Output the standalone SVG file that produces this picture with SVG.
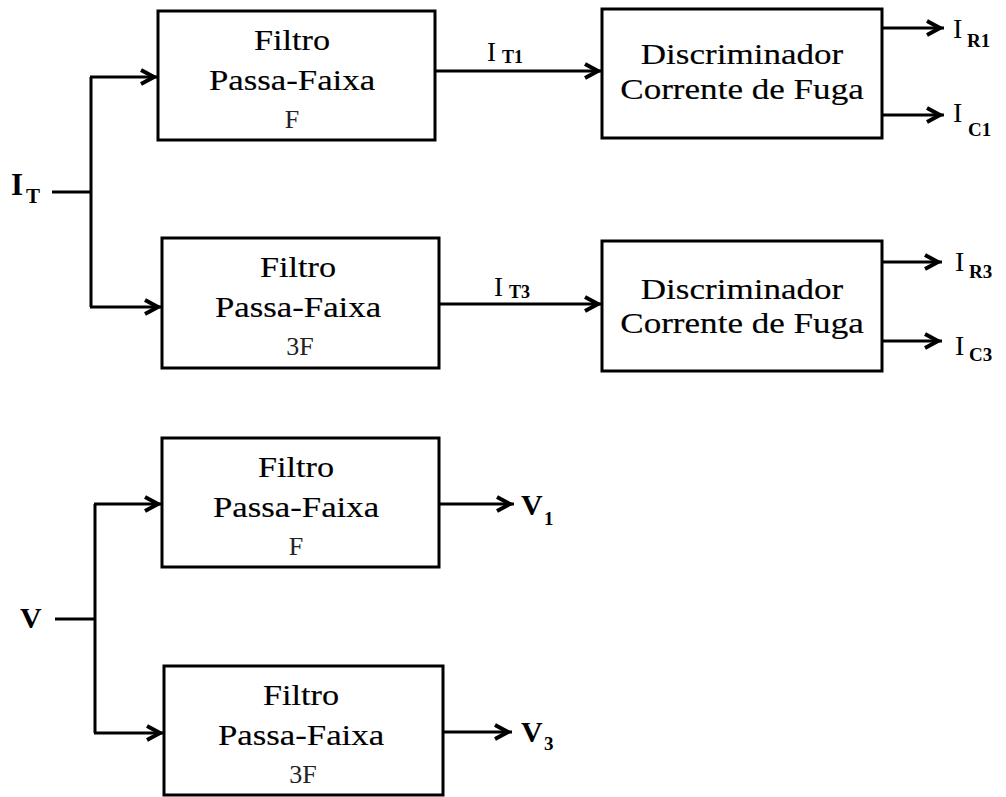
<svg xmlns="http://www.w3.org/2000/svg" width="1006" height="797" viewBox="0 0 1006 797">
  <defs>
    <marker id="arr" markerUnits="userSpaceOnUse" markerWidth="24" markerHeight="24" viewBox="-20 -12 24 24" refX="0" refY="0" orient="auto" overflow="visible">
      <path d="M-17,-7 L-4,0 L-17,7" fill="none" stroke="#000" stroke-width="4" stroke-linejoin="miter"/>
    </marker>
    <style>
      .box { fill: #fff; stroke: #000; stroke-width: 3; }
      .wire { fill: none; stroke: #000; stroke-width: 3; }
      .arrow { fill: none; stroke: #000; stroke-width: 3; marker-end: url(#arr); }
      .caption { font-family: 'Liberation Serif', 'Times New Roman', serif; font-size: 29px; fill: #000; stroke: #000; stroke-width: 0.15; text-anchor: middle; }
      .freq { font-family: 'Liberation Serif', 'Times New Roman', serif; font-size: 26px; fill: #222; text-anchor: middle; }
      .lbl { font-family: 'Liberation Serif', 'Times New Roman', serif; fill: #000; }
      .b { font-weight: bold; }
    </style>
  </defs>
  <rect width="1006" height="797" fill="#fff"/>

  <!-- signal wiring -->
  <g id="connectors">
    <!-- current branch -->
    <polyline class="wire" points="52,192 91,192"/>
    <polyline class="wire" points="91,77 91,307"/>
    <line class="arrow" x1="90" y1="77" x2="158" y2="77"/>
    <line class="arrow" x1="90" y1="307" x2="162" y2="307"/>
    <line class="arrow" x1="435" y1="71" x2="602" y2="71"/>
    <line class="arrow" x1="439" y1="304" x2="602" y2="304"/>
    <line class="arrow" x1="882" y1="28" x2="944" y2="28"/>
    <line class="arrow" x1="882" y1="115" x2="944" y2="115"/>
    <line class="arrow" x1="882" y1="262" x2="942" y2="262"/>
    <line class="arrow" x1="882" y1="341" x2="942" y2="341"/>
    <!-- voltage branch -->
    <polyline class="wire" points="55,619 95,619"/>
    <polyline class="wire" points="95,504 95,733"/>
    <line class="arrow" x1="94" y1="504" x2="162" y2="504"/>
    <line class="arrow" x1="94" y1="733" x2="164" y2="733"/>
    <line class="arrow" x1="439" y1="504" x2="514" y2="504"/>
    <line class="arrow" x1="443" y1="732" x2="512" y2="732"/>
  </g>

  <!-- band-pass filter, fundamental (current) -->
  <g id="bpf-i-f">
    <rect class="box" x="158" y="11" width="277" height="129"/>
    <text class="caption" transform="translate(292 50) scale(1.18 1)">Filtro</text>
    <text class="caption" transform="translate(292 90) scale(1.2 1)">Passa-Faixa</text>
    <text class="freq" x="292" y="128">F</text>
  </g>

  <!-- band-pass filter, third harmonic (current) -->
  <g id="bpf-i-3f">
    <rect class="box" x="162" y="238" width="277" height="130"/>
    <text class="caption" transform="translate(298 277) scale(1.18 1)">Filtro</text>
    <text class="caption" transform="translate(298 317) scale(1.2 1)">Passa-Faixa</text>
    <text class="freq" x="300" y="355">3F</text>
  </g>

  <!-- leakage-current discriminator, fundamental -->
  <g id="disc-1">
    <rect class="box" x="602" y="9" width="280" height="129"/>
    <text class="caption" transform="translate(742 64) scale(1.21 1)">Discriminador</text>
    <text class="caption" transform="translate(742 99) scale(1.21 1)">Corrente de Fuga</text>
  </g>

  <!-- leakage-current discriminator, third harmonic -->
  <g id="disc-3">
    <rect class="box" x="602" y="241" width="280" height="130"/>
    <text class="caption" transform="translate(742 299) scale(1.21 1)">Discriminador</text>
    <text class="caption" transform="translate(742 333) scale(1.21 1)">Corrente de Fuga</text>
  </g>

  <!-- band-pass filter, fundamental (voltage) -->
  <g id="bpf-v-f">
    <rect class="box" x="162" y="438" width="277" height="129"/>
    <text class="caption" transform="translate(296 477) scale(1.18 1)">Filtro</text>
    <text class="caption" transform="translate(296 517) scale(1.2 1)">Passa-Faixa</text>
    <text class="freq" x="296" y="555">F</text>
  </g>

  <!-- band-pass filter, third harmonic (voltage) -->
  <g id="bpf-v-3f">
    <rect class="box" x="164" y="666" width="279" height="129"/>
    <text class="caption" transform="translate(301 705) scale(1.18 1)">Filtro</text>
    <text class="caption" transform="translate(301 745) scale(1.2 1)">Passa-Faixa</text>
    <text class="freq" x="303" y="783">3F</text>
  </g>

  <!-- signal labels -->
  <g id="labels">
    <text class="lbl b" x="11" y="195" font-size="31">I</text>
    <text class="lbl b" x="26" y="203" font-size="21">T</text>

    <text class="lbl" x="487" y="61" font-size="27">I</text>
    <text class="lbl b" x="502" y="63" font-size="18">T1</text>

    <text class="lbl" x="494" y="296" font-size="27">I</text>
    <text class="lbl b" x="509" y="298" font-size="18">T3</text>

    <text class="lbl" x="953" y="38" font-size="28">I</text>
    <text class="lbl b" x="967" y="47" font-size="19">R1</text>
    <text class="lbl" x="953" y="122" font-size="28">I</text>
    <text class="lbl b" x="968" y="136" font-size="19">C1</text>

    <text class="lbl" x="955" y="271" font-size="28">I</text>
    <text class="lbl b" x="969" y="278" font-size="19">R3</text>
    <text class="lbl" x="955" y="355" font-size="28">I</text>
    <text class="lbl b" x="969" y="361" font-size="19">C3</text>

    <text class="lbl b" x="20" y="628" font-size="30">V</text>

    <text class="lbl b" x="521" y="515" font-size="30">V</text>
    <text class="lbl b" x="544" y="525" font-size="19">1</text>
    <text class="lbl b" x="521" y="742" font-size="30">V</text>
    <text class="lbl b" x="544" y="750" font-size="19">3</text>
  </g>
</svg>
